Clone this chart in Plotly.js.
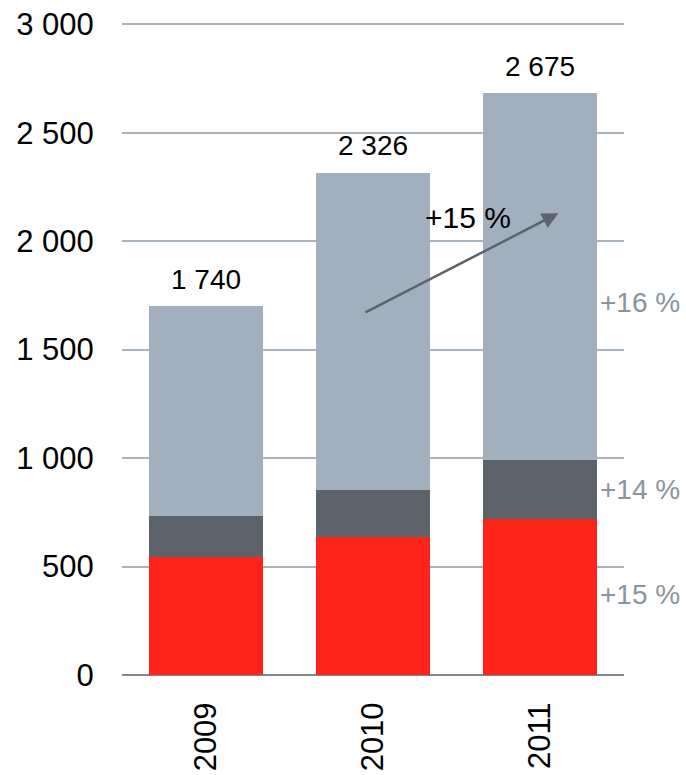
<!DOCTYPE html>
<html>
<head>
<meta charset="utf-8">
<script src="https://cdn.plot.ly/plotly-3.0.1.min.js"></script>
<style>html,body{margin:0;padding:0;background:#fff;}#chart{width:686px;height:775px;}</style>
</head>
<body>
<div id="chart"></div>
<script>
var years = ['2009', '2010', '2011'];
var segRed = [542, 634, 719];
var segDark = [193, 220, 272];
var segLight = [964, 1462, 1692];
var totalLabels = ['1 740', '2 326', '2 675'];
var growthLabels = ['+16 %', '+14 %', '+15 %'];
var growthY = [1719, 853, 369];
var cagrLabel = '+15 %';
var cagrPos = [1.569, 2111];
var arrowFrom = [0.946, 1668];
var arrowTo = [2.108, 2129];
var yTicks = [0, 500, 1000, 1500, 2000, 2500, 3000];

var FONT = 'Liberation Sans, Arial, sans-serif';
var totals = years.map(function (_, i) { return segRed[i] + segDark[i] + segLight[i]; });

var traces = [
  {type: 'bar', x: years, y: segRed, marker: {color: '#FE2419'}, hoverinfo: 'none'},
  {type: 'bar', x: years, y: segDark, marker: {color: '#5C636B'}, hoverinfo: 'none'},
  {type: 'bar', x: years, y: segLight, marker: {color: '#A2B0BD'}, hoverinfo: 'none'}
];

var annotations = [];
years.forEach(function (yr, i) {
  annotations.push({x: i, y: totals[i], xref: 'x', yref: 'y', text: totalLabels[i],
    showarrow: false, xanchor: 'center', yanchor: 'middle', yshift: 27,
    font: {family: FONT, size: 28, color: '#000'}});
});
growthLabels.forEach(function (t, i) {
  annotations.push({x: 2.345, y: growthY[i], xref: 'x', yref: 'y', text: t, showarrow: false,
    xanchor: 'left', yanchor: 'middle', font: {family: FONT, size: 28, color: '#8A949E'}});
});
annotations.push({x: cagrPos[0], y: cagrPos[1], xref: 'x', yref: 'y', text: cagrLabel, showarrow: false,
  xanchor: 'center', yanchor: 'middle', font: {family: FONT, size: 30, color: '#000'}});
annotations.push({x: arrowTo[0], y: arrowTo[1], ax: arrowFrom[0], ay: arrowFrom[1],
  xref: 'x', yref: 'y', axref: 'x', ayref: 'y', text: '', showarrow: true,
  arrowhead: 2, arrowsize: 1.3, arrowwidth: 2.5, arrowcolor: '#5C636B', standoff: 0});

var layout = {
  width: 686, height: 775,
  margin: {l: 122, r: 62, t: 21, b: 100},
  paper_bgcolor: '#fff', plot_bgcolor: '#fff',
  barmode: 'stack', bargap: 0.32,
  showlegend: false,
  separators: ', ',
  font: {family: FONT, size: 31, color: '#000'},
  xaxis: {type: 'category', range: [-0.5, 2.5], tickangle: -90, ticks: 'outside', ticklen: 14,
    tickcolor: 'rgba(0,0,0,0)', showgrid: false, showline: false, zeroline: false,
    tickfont: {family: FONT, size: 31, color: '#000'}},
  yaxis: {range: [0, 3015], tickvals: yTicks,
    separatethousands: true, tickformat: ',d',
    showgrid: true, gridcolor: '#A7B4C0', gridwidth: 2, zeroline: true, zerolinecolor: '#7E868E',
    zerolinewidth: 2.5, ticks: 'outside', ticklen: 21, tickcolor: 'rgba(0,0,0,0)',
    showline: false, tickfont: {family: FONT, size: 31, color: '#000'}},
  annotations: annotations
};

Plotly.newPlot('chart', traces, layout, {staticPlot: true, displayModeBar: false});
</script>
</body>
</html>
